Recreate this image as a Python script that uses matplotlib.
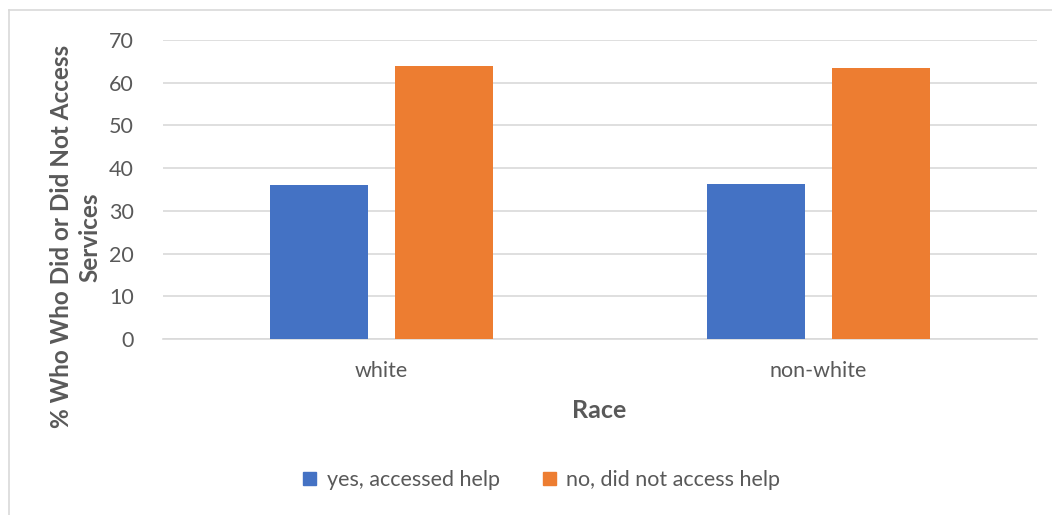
import matplotlib.pyplot as plt
from matplotlib.lines import Line2D
from matplotlib.patches import Patch
import numpy as np

# chart data
categories = ["white", "non-white"]
yes_help = [36.1, 36.4]
no_help = [63.8, 63.5]
series_names = ["yes, accessed help", "no, did not access help"]

plt.rcParams['font.family'] = ['Lato', 'DejaVu Sans']

fig = plt.figure(figsize=(10.52, 5.15), dpi=100)
ax = fig.add_axes([0.155, 0.3417, 0.8307, 0.5806])

x = np.arange(len(categories))
w = 0.2236
off = 0.1427
ax.bar(x - off, yes_help, w, color="#4472C4", zorder=3)
ax.bar(x + off, no_help, w, color="#ED7D31", zorder=3)

ax.set_xlim(-0.5, 1.5)
ax.set_ylim(0, 70)
ax.set_yticks(range(0, 71, 10))
ax.set_xticks(x)
ax.set_xticklabels(categories)
ax.yaxis.grid(True, color="#d9d9d9", linewidth=1.2, zorder=0)
ax.set_axisbelow(True)
for s in ["top", "right", "left"]:
    ax.spines[s].set_visible(False)
ax.spines["bottom"].set_color("#d9d9d9")
ax.spines["bottom"].set_linewidth(1.2)
ax.tick_params(axis="both", length=0, labelsize=15.5, colors="#595959")
ax.tick_params(axis="y", pad=21)
ax.tick_params(axis="x", pad=16)

fig.text(0.072, 0.54, "% Who Who Did or Did Not Access\nServices", rotation=90,
         ha="center", va="center", fontsize=17.5, fontweight="bold", color="#595959",
         linespacing=1.25)
fig.text(599 / 1052, 1 - 410 / 515, "Race", ha="center", va="center",
         fontsize=18, fontweight="bold", color="#595959")

handles = [Patch(color="#4472C4"), Patch(color="#ED7D31")]
fig.legend(handles, series_names, loc="center", bbox_to_anchor=(0.515, 1 - 480 / 515),
           ncol=2, frameon=False, fontsize=15.5, labelcolor="#595959",
           handlelength=0.6, handleheight=0.6, handletextpad=0.5, columnspacing=2.0)

# chart frame (only top/left edges visible in the picture)
fig.add_artist(Line2D([9 / 1052, 1.0], [1 - 10 / 515] * 2, color="#d9d9d9", linewidth=1.2))
fig.add_artist(Line2D([9 / 1052] * 2, [0.0, 1 - 10 / 515], color="#d9d9d9", linewidth=1.2))

fig.savefig("out.png", dpi=100)
